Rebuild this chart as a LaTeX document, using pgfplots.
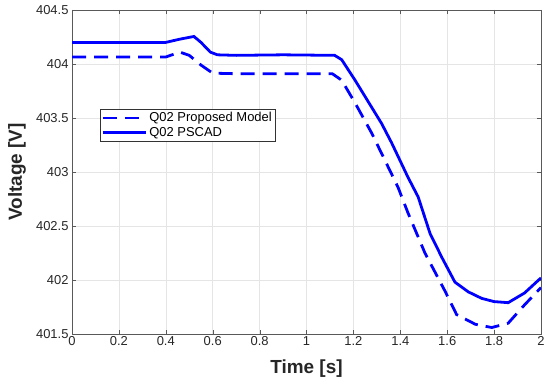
\documentclass[border=0pt]{standalone}
\usepackage{pgfplots}
\pgfplotsset{compat=1.18}
\usepackage{fontspec}
\setmainfont{Liberation Sans}
\begin{document}
\begin{tikzpicture}
\useasboundingbox (0,0) rectangle (550bp,384bp);
\begin{axis}[
  at={(72bp,50bp)}, anchor=south west,
  scale only axis, width=469bp, height=324bp,
  xmin=0, xmax=2, ymin=401.5, ymax=404.5,
  xtick={0,0.2,...,2.01}, ytick={401.5,402,...,404.5},
  xticklabels={0,0.2,0.4,0.6,0.8,1,1.2,1.4,1.6,1.8,2},
  yticklabels={401.5,402,402.5,403,403.5,404,404.5},
  tick align=inside, tick pos=both,
  major tick length=4bp,
  grid=major, grid style={gray!20, line width=0.5pt},
  axis line style={gray!70!black, line width=0.6pt},
  tick style={gray!70!black},
  ticklabel style={font=\fontsize{13}{14}\selectfont, text=black!85},
  xticklabel style={yshift=1bp},
  /pgf/number format/assume math mode=true,
  xlabel={\textbf{Time [s]}}, ylabel={\textbf{Voltage [V]}},
  label style={font=\fontsize{19}{21}\selectfont, text=black!85},
  xlabel style={at={(axis description cs:0.5,-0.108)}, anchor=center},
  ylabel style={at={(axis description cs:-0.1173,0.5)}, anchor=center},
  legend style={at={(axis cs:0.119,403.585)}, anchor=north west,
    font=\fontsize{13}{14}\selectfont, draw=black!80, inner sep=1.5pt,
    row sep=0pt, cells={anchor=west, inner sep=1.2pt}},
  legend image code/.code={\draw[#1] (0bp,0bp) -- (43bp,0bp);},
  legend cell align=left,
]
\addplot[blue, line width=2.8pt, dash pattern=on 14bp off 8bp] coordinates {
(0,404.065) (0.40,404.065) (0.46,404.11) (0.50,404.08) (0.55,403.99) (0.60,403.915)
(0.70,403.91) (0.90,403.91) (1.11,403.91) (1.15,403.85) (1.207,403.64) (1.278,403.36)
(1.39,402.86) (1.433,402.62) (1.505,402.25) (1.59,401.90) (1.64,401.68) (1.72,401.59)
(1.79,401.56) (1.86,401.60) (1.93,401.77) (2.0,401.93)};
\addlegendentry{Q02 Proposed Model}
\addplot[blue, line width=2.8pt] coordinates {
(0,404.20) (0.40,404.20) (0.46,404.23) (0.52,404.255) (0.55,404.20) (0.59,404.11)
(0.62,404.085) (0.70,404.08) (0.90,404.085) (1.12,404.08) (1.15,404.04) (1.207,403.85) (1.32,403.45)
(1.363,403.27) (1.433,402.95) (1.476,402.77) (1.527,402.43) (1.577,402.21) (1.633,401.98)
(1.69,401.89) (1.747,401.83) (1.80,401.80) (1.86,401.79) (1.93,401.88) (2.0,402.02)};
\addlegendentry{Q02 PSCAD}
\end{axis}
\end{tikzpicture}
\end{document}
